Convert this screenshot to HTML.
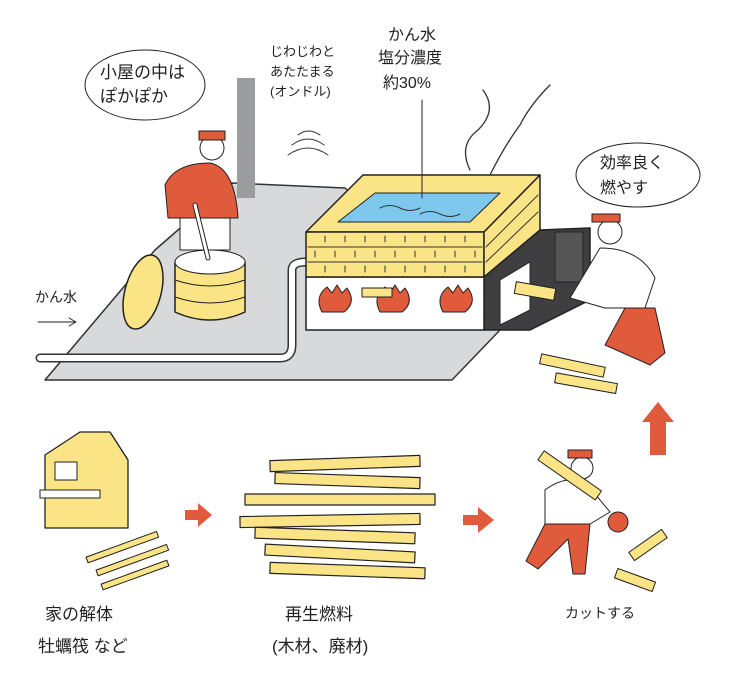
<!DOCTYPE html>
<html><head><meta charset="utf-8"><style>
html,body{margin:0;padding:0;background:#fff}
svg{display:block}
text{font-family:"Liberation Sans","Noto Sans CJK JP",sans-serif;fill:#222}
</style></head><body>
<svg width="736" height="678" viewBox="0 0 736 678" xmlns="http://www.w3.org/2000/svg" stroke-linejoin="round" stroke-linecap="round">
<polygon points="45,380 155,250 232,183 345,188 500,330 452,380" fill="#d8d9da" stroke="#333" stroke-width="1.5"/>
<rect x="237" y="78" width="18" height="120" fill="#9a9c9e"/>
<path d="M40,358 L280,358 Q292,358 292,345 L292,270 Q292,262 306,262" fill="none" stroke="#333" stroke-width="9"/>
<path d="M40,358 L280,358 Q292,358 292,345 L292,270 Q292,262 306,262" fill="none" stroke="#fff" stroke-width="6"/>
<polygon points="484,277 540,230 590,228 590,300 530,330 484,330" fill="#3f3f42" stroke="#222" stroke-width="1.5"/>
<rect x="555" y="232" width="28" height="50" fill="#555" stroke="#222"/>
<polygon points="500,280 530,262 530,310 500,325" fill="#fff" stroke="#222"/>
<rect x="306" y="277" width="178" height="53" fill="#fff" stroke="#222" stroke-width="1.5"/>
<polygon points="306,232 363,175 540,175 484,232" fill="#fae486" stroke="#222" stroke-width="1.5"/>
<polygon points="338,222 375,193 500,193 470,222" fill="#7ec8ee" stroke="#222"/>
<path d="M380,208 q10,-5 20,0 t20,0 M420,214 q10,-5 20,0 t20,0" fill="none" stroke="#333"/>
<rect x="306" y="232" width="178" height="45" fill="#fae486" stroke="#222" stroke-width="1.5"/>
<polygon points="484,232 540,175 540,230 484,277" fill="#fae486" stroke="#222" stroke-width="1.5"/>
<g stroke="#333" stroke-width="1"><line x1="308" y1="247" x2="482" y2="247"/><line x1="308" y1="262" x2="482" y2="262"/><line x1="486" y1="247" x2="538" y2="195"/><line x1="486" y1="262" x2="538" y2="212"/></g>
<g stroke="#333" stroke-width="1">
<path d="M325,236v6M345,236v6M365,236v6M385,236v6M405,236v6M425,236v6M445,236v6M465,236v6M315,251v6M335,251v6M355,251v6M375,251v6M395,251v6M415,251v6M435,251v6M455,251v6M475,251v6M325,266v6M345,266v6M365,266v6M385,266v6M405,266v6M425,266v6M445,266v6M465,266v6"/></g>
<g fill="#e05a3c" stroke="#222"><path d="M322,312 q-8,-15 5,-25 l5,6 l5,-8 l5,8 l5,-5 q10,14 -3,24z"/><path d="M380,312 q-8,-15 5,-25 l5,6 l5,-8 l5,8 l5,-5 q10,14 -3,24z"/><path d="M443,312 q-8,-15 5,-25 l5,6 l5,-8 l5,8 l5,-5 q10,14 -3,24z"/></g>
<rect x="362" y="288" width="30" height="9" fill="#fae486" stroke="#222"/>
<rect x="515" y="285" width="40" height="12" fill="#fae486" stroke="#222" transform="rotate(10 535 291)"/>
<path d="M470,170 q-12,-25 8,-40 q20,-20 5,-40 M490,175 q15,-30 30,-50 q10,-20 30,-40" fill="none" stroke="#333" stroke-width="1.3"/>
<line x1="422" y1="100" x2="422" y2="198" stroke="#222"/>
<circle cx="212" cy="148" r="12" fill="#fff" stroke="#222"/>
<rect x="199" y="131" width="26" height="9" fill="#e05a3c" stroke="#222"/>
<path d="M165,185 q10,-22 45,-22 q25,5 28,55 l-70,0z" fill="#e05a3c" stroke="#222"/>
<rect x="180" y="218" width="50" height="32" fill="#fff" stroke="#222"/>
<path d="M175,262 L175,312 Q210,328 245,312 L245,262 Z" fill="#fae486" stroke="#222" stroke-width="1.5"/>
<path d="M175,280 Q210,292 245,280 M175,297 Q210,309 245,297" fill="none" stroke="#222"/>
<ellipse cx="210" cy="262" rx="35" ry="12" fill="#fff" stroke="#222"/>
<line x1="195" y1="205" x2="208" y2="258" stroke="#222" stroke-width="5"/>
<line x1="195" y1="205" x2="208" y2="258" stroke="#fff" stroke-width="3"/>
<ellipse cx="143" cy="292" rx="18" ry="38" fill="#fae486" stroke="#222" stroke-width="1.5" transform="rotate(15 143 292)"/>
<circle cx="610" cy="232" r="12" fill="#fff" stroke="#222"/>
<rect x="592" y="214" width="28" height="8" fill="#e05a3c" stroke="#222"/>
<path d="M600,248 q40,0 55,30 l-10,30 l-40,0 l-35,-10 z" fill="#fff" stroke="#222"/>
<path d="M625,308 l30,0 l10,45 l-15,12 l-45,-20 z" fill="#e05a3c" stroke="#222"/>
<ellipse cx="145" cy="85" rx="60" ry="35" fill="#fff" stroke="#222"/>
<text x="100" y="78" font-size="17">小屋の中は</text><text x="100" y="102" font-size="17">ぽかぽか</text>
<ellipse cx="638" cy="175" rx="62" ry="32" fill="#fff" stroke="#222"/>
<text x="600" y="168" font-size="16">効率良く</text><text x="600" y="193" font-size="16">燃やす</text>
<text x="270" y="56" font-size="13">じわじわと</text><text x="270" y="76" font-size="13">あたたまる</text><text x="270" y="96" font-size="13">(オンドル)</text>
<text x="388" y="40" font-size="16">かん水</text><text x="378" y="63" font-size="16">塩分濃度</text><text x="383" y="88" font-size="16">約30%</text>
<text x="35" y="302" font-size="14">かん水</text>
<path d="M38,322 L75,322 M69,318 L76,322 L69,326" fill="none" stroke="#222"/>
<g fill="none" stroke="#333"><path d="M298,135 q10,-8 22,0 M292,145 q16,-12 32,0 M288,155 q20,-14 40,0"/></g>
<g fill="#fae486" stroke="#222"><rect x="540" y="360" width="65" height="10" transform="rotate(12 570 365)"/><rect x="555" y="378" width="62" height="10" transform="rotate(10 585 383)"/></g>
<polygon points="650,455 650,422 642,422 658,402 674,422 666,422 666,455" fill="#e05a3c"/>
<polygon points="45,455 80,432 110,432 128,460 128,528 45,528" fill="#fae486" stroke="#222" stroke-width="1.3"/>
<rect x="55" y="462" width="22" height="18" fill="#fff" stroke="#222"/>
<rect x="40" y="490" width="60" height="8" fill="#fff" stroke="#222"/>
<g fill="#fae486" stroke="#222"><rect x="85" y="545" width="75" height="6" transform="rotate(-20 120 548)"/><rect x="95" y="558" width="75" height="6" transform="rotate(-20 130 561)"/><rect x="100" y="572" width="70" height="6" transform="rotate(-20 135 575)"/></g>
<polygon points="185,510 198,510 198,503 212,515 198,527 198,520 185,520" fill="#e05a3c"/>
<g fill="#fae486" stroke="#222" stroke-width="1.2">
<rect x="270" y="458" width="150" height="11" transform="rotate(-2 345 463)"/><rect x="275" y="475" width="145" height="11" transform="rotate(2 345 480)"/>
<rect x="245" y="494" width="190" height="11"/><rect x="240" y="515" width="180" height="11" transform="rotate(-1 330 520)"/>
<rect x="255" y="530" width="160" height="11" transform="rotate(2 335 535)"/><rect x="265" y="548" width="150" height="11" transform="rotate(3 340 553)"/>
<rect x="270" y="565" width="155" height="11" transform="rotate(2 345 570)"/></g>
<polygon points="463,515 478,515 478,507 494,520 478,533 478,525 463,525" fill="#e05a3c"/>
<circle cx="582" cy="468" r="11" fill="#fff" stroke="#222"/>
<rect x="568" y="450" width="24" height="8" fill="#e05a3c" stroke="#222"/>
<path d="M545,490 q20,-15 40,-8 l25,30 l-20,12 l-45,0 z" fill="#fff" stroke="#222"/>
<path d="M545,524 l45,0 l-5,50 l-12,0 l-5,-35 l-30,30 l-12,-8 z" fill="#e05a3c" stroke="#222"/>
<circle cx="618" cy="522" r="10" fill="#e05a3c" stroke="#222"/>
<g fill="#fae486" stroke="#222"><rect x="535" y="470" width="70" height="11" transform="rotate(35 570 475)"/><rect x="628" y="540" width="40" height="10" transform="rotate(-35 648 545)"/><rect x="615" y="575" width="40" height="10" transform="rotate(20 635 580)"/></g>
<text x="45" y="620" font-size="17">家の解体</text>
<text x="38" y="652" font-size="17">牡蠣筏 など</text>
<text x="285" y="620" font-size="17">再生燃料</text>
<text x="272" y="652" font-size="17">(木材、廃材)</text>
<text x="565" y="618" font-size="14">カットする</text>
</svg>
</body></html>
